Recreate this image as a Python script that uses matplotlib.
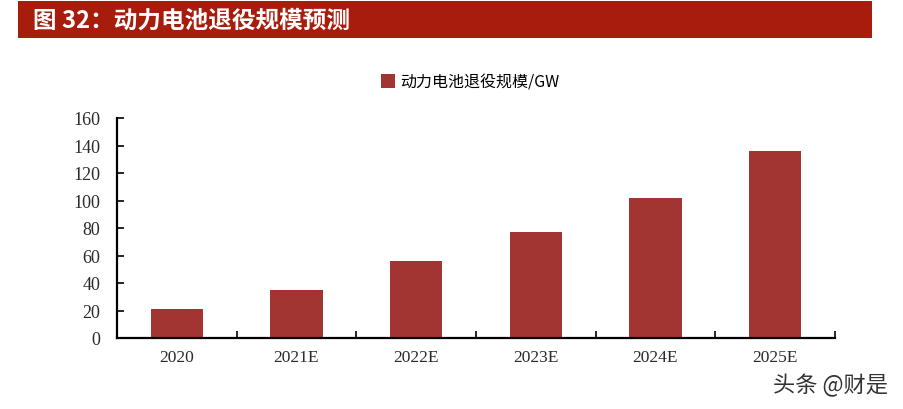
import matplotlib
matplotlib.use("Agg")
import matplotlib.pyplot as plt
from matplotlib.patches import Rectangle

plt.rcParams['font.family'] = ['Noto Sans CJK SC', 'DejaVu Sans']

categories = ["2020", "2021E", "2022E", "2023E", "2024E", "2025E"]
values = [21, 35, 56, 77, 102, 136]
yticks = [0, 20, 40, 60, 80, 100, 120, 140, 160]
title = "图 32：动力电池退役规模预测"
legend_label = "动力电池退役规模/GW"
watermark = "头条 @财是"

W, H = 904, 410
fig = plt.figure(figsize=(W / 100, H / 100), dpi=100)
fig.patch.set_facecolor("white")

# title banner
fig.patches.append(Rectangle((18 / W, 1 - 39 / H), (872 - 18) / W, (39 - 2) / H,
                             transform=fig.transFigure, facecolor="#A81C0C",
                             edgecolor="none", zorder=0))
fig.text(33 / W, 1 - 21 / H, title, color="white", fontsize=17, fontweight="heavy",
         va="center", ha="left")

ax = fig.add_axes([117 / W, 1 - 339 / H, (835 - 117) / W, (339 - 119) / H])
x = list(range(len(categories)))
bars = ax.bar(x, values, width=0.44, color="#A23531", label=legend_label, zorder=2)
ax.set_xlim(-0.5, len(categories) - 0.5)
ax.set_ylim(0, 160)
ax.set_yticks(yticks)
ax.set_yticklabels([str(v) for v in yticks], family="Liberation Serif", fontsize=13, color="#2a2a2a")
ax.set_xticks(x)
ax.set_xticklabels(categories, family="Liberation Serif", fontsize=12.5, color="#2a2a2a")
ax.tick_params(axis="x", length=0, pad=8)
# category boundary ticks
ax.set_xticks([i - 0.5 for i in range(len(categories) + 1)], minor=True)
ax.tick_params(axis="x", which="minor", direction="in", length=5, width=1.2)
ax.tick_params(axis="y", direction="in", length=5, width=1.2, pad=12)
for s in ["top", "right"]:
    ax.spines[s].set_visible(False)
ax.spines["left"].set_linewidth(1.6)
ax.spines["bottom"].set_linewidth(1.6)

fig.legend(handles=[bars], labels=[legend_label], loc="center",
           bbox_to_anchor=(470 / W, 1 - 83 / H), frameon=False, fontsize=11.5,
           handlelength=0.9, handleheight=0.9, handletextpad=0.3)

fig.text(831 / W, 1 - 386 / H, watermark, color="#333333", fontsize=16,
         ha="center", va="center")

fig.savefig("out.png", dpi=100)
